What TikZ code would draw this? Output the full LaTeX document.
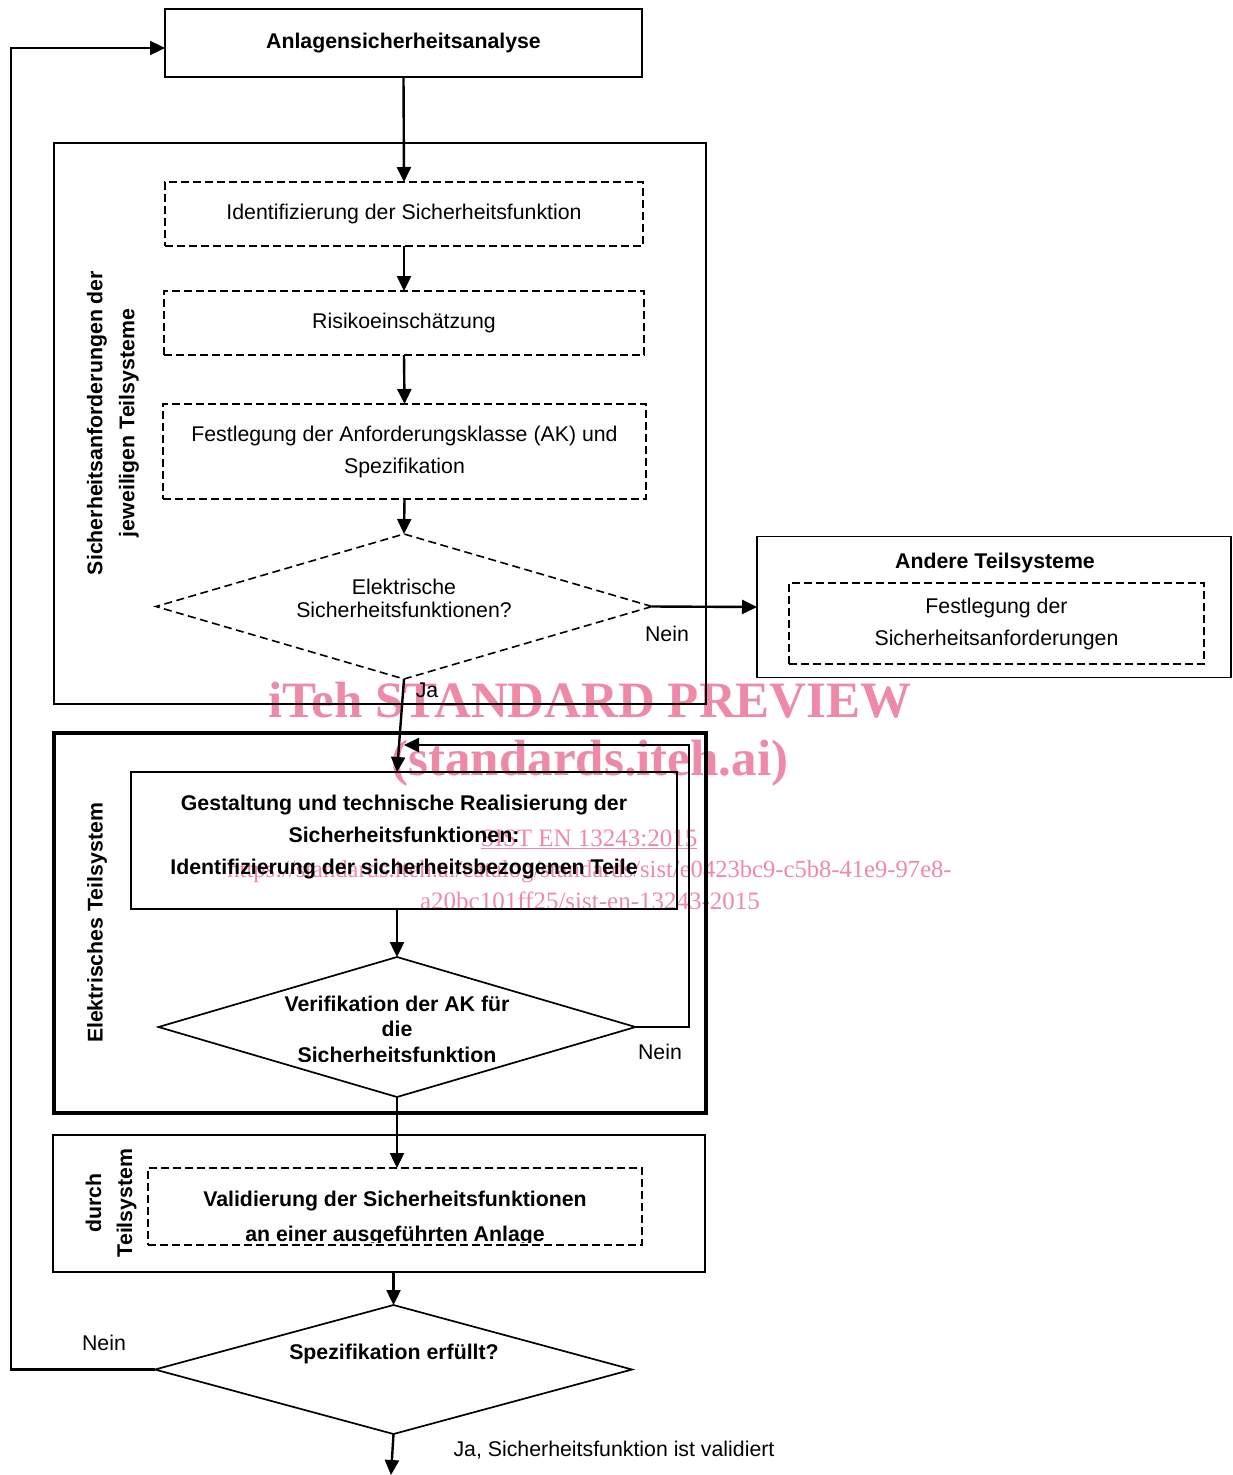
\documentclass[tikz,border=0pt]{standalone}
\usepackage{fontspec}
\setmainfont{Liberation Sans}
\newfontfamily\wmfont{Liberation Serif}
\usetikzlibrary{arrows.meta,shapes.geometric,calc}
\definecolor{wm}{RGB}{238,137,168}
\begin{document}
\begin{tikzpicture}[x=1pt,y=-1pt,
  font=\fontsize{21.3}{32}\selectfont,
  every node/.style={inner sep=0pt, outer sep=0pt},
  box/.style={draw, line width=1.6pt, align=center},
  dbox/.style={draw, line width=1.7pt, dash pattern=on 8pt off 4pt, align=center},
  thickbox/.style={draw, line width=3.5pt},
  ddia/.style={diamond, draw, line width=1.6pt, dash pattern=on 8pt off 4.5pt},
  dia/.style={diamond, draw, line width=1.7pt},
  arr/.style={line width=2.4pt, -{Triangle[length=15pt,width=14pt]}},
  txt/.style={align=center},
  btxt/.style={align=center, font=\fontsize{21.3}{32}\selectfont\bfseries},
  wmbig/.style={text=wm, font=\wmfont\bfseries\fontsize{51}{60}\selectfont, anchor=base},
  wmsmall/.style={text=wm, font=\wmfont\fontsize{25}{30}\selectfont, anchor=base}
]
\useasboundingbox (0,0) rectangle (1233,1475);

% watermark (behind)
\node[wmbig] (wm1) at (590,717) {iTeh STANDARD PREVIEW};
\node[wmbig] (wm2) at (590,775) {(standards.iteh.ai)};
\node[wmsmall] (wm3) at (589,846) {\underline{SIST EN 13243:2015}};
\node[wmsmall, font=\wmfont\fontsize{24.6}{30}\selectfont] (wm4) at (589.5,877) {https://standards.iteh.ai/catalog/standards/sist/e0423bc9-c5b8-41e9-97e8-};
\node[wmsmall] (wm5) at (590,909) {a20bc101ff25/sist-en-13243-2015};

% group frames
\node[box, minimum width=652pt, minimum height=561pt] (grp1) at (380,423.5) {};
\node[thickbox, minimum width=652pt, minimum height=380pt] (grp2) at (380,923) {};
\node[box, minimum width=652pt, minimum height=137pt] (grp3) at (379,1203.5) {};

% rotated group labels
\node[btxt, rotate=90] (g1t) at (113,423) {Sicherheitsanforderungen der\\jeweiligen Teilsysteme};
\node[btxt, rotate=90] (g2t) at (97,923) {Elektrisches Teilsystem};
\node[btxt, rotate=90, font=\fontsize{21.3}{31}\selectfont\bfseries] (g3t) at (111,1203) {durch\\Teilsystem};

% top box
\node[box, font=\fontsize{21.3}{32}\selectfont\bfseries, minimum width=477pt, minimum height=68pt] (top) at (403.5,43) {Anlagensicherheitsanalyse};

% dashed steps
\node[dbox, minimum width=478pt, minimum height=64pt] (ident) at (404,214) {Identifizierung der Sicherheitsfunktion};
\node[dbox, minimum width=480pt, minimum height=64pt] (risk) at (404,323) {Risikoeinschätzung};
\node[dbox, minimum width=483pt, minimum height=95pt] (fest) at (404.5,451.5) {Festlegung der Anforderungsklasse (AK) und\\Spezifikation};

% dashed decision
\node[ddia, minimum width=496pt, minimum height=145pt] (elek) at (404,606.5) {};
\node[txt, font=\fontsize{21.3}{23}\selectfont] (elekT) at (404,598) {Elektrische\\Sicherheitsfunktionen?};

% other subsystems
\node[box, minimum width=474pt, minimum height=141pt] (andere) at (994,607) {};
\node[btxt] (andereT) at (995,563) {Andere Teilsysteme};
\node[dbox, minimum width=415pt, minimum height=81pt] (festsa) at (996.5,623.5) {Festlegung der\\Sicherheitsanforderungen};

% electrical subsystem
\node[box, minimum width=546pt, minimum height=137pt] (gest) at (404,840.5) {};
\node[btxt] (gestT) at (404,837) {Gestaltung und technische Realisierung der\\Sicherheitsfunktionen:\\Identifizierung der sicherheitsbezogenen Teile};

\node[dia, minimum width=477pt, minimum height=140pt] (verif) at (397,1027) {};
\begin{scope}
  \clip (0,0) rectangle (1233,1061);
  \node[btxt, font=\fontsize{21.3}{25.5}\selectfont\bfseries] (verifT) at (397,1029) {Verifikation der AK für\\die\\Sicherheitsfunktion};
\end{scope}

% validation
\node[dbox, minimum width=494pt, minimum height=77pt] (valid) at (395,1206.5) {};
\begin{scope}
  \clip (0,0) rectangle (1233,1242);
  \node[btxt, font=\fontsize{21.3}{35}\selectfont\bfseries] (validT) at (395,1219) {Validierung der Sicherheitsfunktionen\\an einer ausgeführten Anlage};
\end{scope}

% final decision
\node[dia, minimum width=477pt, minimum height=129pt] (spez) at (393.5,1369.5) {};
\node[btxt] (spezT) at (394,1354) {Spezifikation erfüllt?};

% labels
\node[txt] (nein1) at (667,634) {Nein};
\node[txt] (ja1) at (427,690) {Ja};
\node[txt] (nein2) at (660,1052) {Nein};
\node[txt] (nein3) at (104,1343) {Nein};
\node[txt] (ja2) at (614,1450) {Ja, Sicherheitsfunktion ist validiert};

% helper coordinates
\coordinate (fb1) at (689,1027);
\coordinate (fb2) at (689,745);
\coordinate (fb3) at (404,745);
\coordinate (lp1) at (11,1369.5);
\coordinate (lp2) at (11,48);
\coordinate (endpt) at (391,1475);

% connectors
\draw[arr] (top.south) -- (ident.north);
\draw[arr] (ident.south) -- (risk.north);
\draw[arr] (risk.south) -- (fest.north);
\draw[arr] (fest.south) -- (elek.north);
\draw[arr] (elek.east) -- (andere.west);
\draw[arr] (elek.south) -- (verif.north |- gest.north);
\draw[arr] (verif.north |- gest.south) -- (verif.north);
\draw[arr] (verif.east) -- (fb1) -- (fb2) -- (fb3);
\draw[arr] (verif.south) -- (verif.south |- valid.north);
\draw[arr] (spez.north |- grp3.south) -- (spez.north);
\draw[arr] (spez.west) -- (lp1) -- (lp2) -- (lp2 -| top.west);
\draw[arr] (spez.south) -- (endpt);
\end{tikzpicture}
\end{document}
